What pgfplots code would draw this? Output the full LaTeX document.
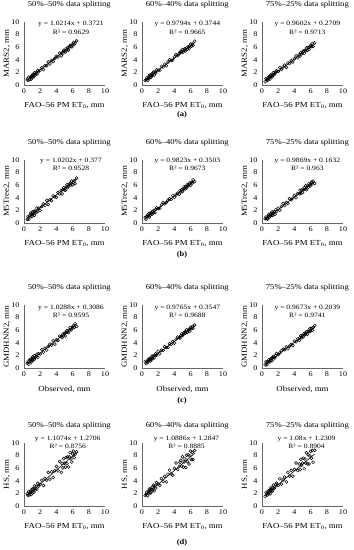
\documentclass[border=0pt]{standalone}
\usepackage{fontspec}
\setmainfont{Liberation Serif}[FakeStretch=1.15]
\usepackage{pgfplots}
\usepackage{pgfplotstable}
\pgfplotsset{compat=1.18}
\newcommand{\ti}{\fontsize{7.5}{8}\selectfont}
\newcommand{\eqf}{\fontsize{6.6}{7}\selectfont}
\newcommand{\lb}{\fontsize{7.7}{8.5}\selectfont}
\newcommand{\tk}{\fontsize{7.1}{7.5}\selectfont}
\newcommand{\pl}{\fontsize{7.4}{8}\selectfont\bfseries}

\pgfplotstableread{
x ya yb yc
0.4 0.95 0.70 0.50
0.5 0.75 0.85 1.00
0.6 1.25 1.15 0.85
0.7 0.85 0.75 0.75
0.8 1.15 1.25 1.25
0.85 1.30 1.10 1.00
0.9 0.95 1.55 1.30
1.0 1.55 1.15 0.95
1.05 1.30 1.55 1.40
1.1 1.60 1.20 1.60
1.2 1.30 1.60 1.40
1.25 1.65 1.80 1.30
1.3 1.95 1.55 1.65
1.4 1.60 2.05 1.95
1.5 1.95 1.55 1.65
1.6 1.75 2.05 1.85
1.7 2.30 1.90 2.10
1.8 2.10 2.40 2.25
2.0 2.35 2.35 2.15
2.2 2.75 2.35 2.75
2.4 2.45 2.95 2.45
2.6 3.05 2.85 2.85
2.8 3.05 3.30 3.15
3.0 3.65 3.05 2.80
3.2 3.35 3.65 3.50
3.4 3.90 4.00 3.40
3.6 3.70 3.90 3.85
3.8 4.20 3.95 3.65
4.0 4.55 4.45 4.15
4.2 4.45 4.85 4.60
4.4 5.05 4.65 4.35
4.6 4.65 4.95 4.80
4.7 5.15 5.20 4.60
4.8 5.00 5.35 5.15
4.9 5.50 5.15 4.95
5.0 5.35 5.65 5.10
5.1 5.25 5.25 5.40
5.2 5.75 5.55 5.00
5.3 5.55 5.75 5.50
5.4 5.90 5.45 5.40
5.5 5.55 5.90 5.90
5.6 6.05 5.70 5.50
5.7 6.30 6.05 5.95
5.8 6.10 5.75 5.65
5.9 6.05 6.15 6.05
6.0 6.45 6.50 6.30
6.1 6.75 6.15 6.10
6.2 6.45 6.50 6.60
6.3 6.65 6.30 6.10
6.5 7.00 6.95 6.70
}\ta

\pgfplotstableread{
x ya yb yc
0.4 0.61 0.90 0.67
0.5 1.06 0.60 0.95
0.6 0.60 1.00 0.69
0.7 1.12 1.25 0.61
0.8 1.57 1.05 1.07
0.85 0.99 1.50 1.36
0.9 1.39 0.95 0.93
1.0 1.07 1.45 1.15
1.05 1.75 1.25 1.38
1.1 1.38 1.70 1.49
1.2 1.55 1.55 1.23
1.25 1.88 1.40 1.76
1.3 1.23 1.85 1.21
1.4 1.89 1.65 1.55
1.5 1.71 2.00 1.77
1.6 2.37 1.65 1.39
1.7 1.77 2.15 2.09
1.8 2.36 2.40 1.83
2.0 2.00 2.30 2.33
2.2 2.62 2.35 2.05
2.4 3.03 2.85 2.61
2.6 2.81 3.25 3.11
2.8 3.57 3.05 2.77
3.0 2.93 3.25 3.27
3.2 3.69 3.60 3.11
3.4 3.54 3.85 3.85
3.6 4.30 3.75 3.69
3.8 4.15 4.35 3.95
4.0 4.07 4.05 4.39
4.2 4.83 4.45 3.99
4.4 4.61 4.75 4.67
4.6 5.16 4.55 4.63
4.7 4.63 5.15 5.21
4.8 5.29 4.95 4.71
4.9 5.60 5.30 5.23
5.0 5.28 5.00 4.85
5.1 5.17 5.40 5.31
5.2 5.69 5.75 5.59
5.3 6.07 5.40 5.33
5.4 5.61 5.75 5.91
5.5 5.85 5.55 5.29
5.6 6.16 6.10 5.87
5.7 6.33 5.90 5.67
5.8 6.01 6.05 6.25
5.9 6.67 6.35 6.05
6.0 6.07 5.95 5.91
6.1 6.45 6.45 6.49
6.2 6.69 6.35 6.23
6.3 6.23 6.85 6.63
6.5 7.13 6.55 6.29
}\tb

\pgfplotstableread{
x ya yb yc
0.4 0.75 1.05 0.50
0.5 0.97 0.70 1.00
0.6 0.59 1.05 0.50
0.7 1.29 0.85 1.00
0.8 1.03 1.40 0.85
0.85 1.38 1.15 1.30
0.9 0.95 1.25 1.10
1.0 1.41 1.55 1.00
1.05 1.76 1.10 1.45
1.1 1.27 1.55 1.20
1.2 1.67 1.45 1.55
1.25 1.36 1.90 1.15
1.3 1.95 1.45 1.60
1.4 1.69 1.90 1.85
1.5 1.85 1.60 1.65
1.6 2.19 2.00 1.60
1.7 1.69 2.25 2.00
1.8 2.27 2.05 2.30
2.0 2.23 2.65 2.10
2.2 2.91 2.25 2.40
2.4 2.51 2.85 2.75
2.6 3.13 2.80 3.00
2.8 2.85 3.40 2.90
3.0 3.41 3.25 3.35
3.2 3.79 3.25 3.05
3.4 3.63 3.85 3.45
3.6 4.31 3.75 3.75
3.8 3.79 4.20 3.55
4.0 4.47 3.95 4.25
4.2 4.37 4.55 4.15
4.4 5.05 4.90 4.60
4.6 4.95 4.80 4.40
4.7 4.81 4.75 4.80
4.8 5.39 5.15 5.15
4.9 5.13 5.45 4.80
5.0 5.53 5.15 5.15
5.1 5.09 5.35 4.95
5.2 5.67 5.60 5.50
5.3 5.95 5.75 5.30
5.4 5.69 5.55 5.45
5.5 5.61 6.05 5.75
5.6 6.07 5.65 5.35
5.7 6.41 5.95 5.85
5.8 6.03 6.15 5.75
5.9 6.25 5.85 6.25
6.0 6.53 6.45 5.85
6.1 6.69 6.25 6.30
6.2 6.43 6.60 6.00
6.3 7.01 6.30 6.40
6.5 6.61 6.80 6.75
}\tc

\pgfplotstableread{
x ya yb yc
0.4 1.95 1.65 1.53
0.5 1.70 1.82 2.13
0.6 2.32 2.19 1.93
0.7 1.77 1.64 1.77
0.8 2.15 2.29 2.43
0.85 2.35 2.07 2.07
0.9 1.83 2.70 2.48
1.0 2.67 2.07 1.92
1.05 2.28 2.66 2.58
1.1 2.71 2.09 2.87
1.2 2.19 2.67 2.51
1.25 2.73 2.97 2.33
1.3 3.20 2.54 2.87
1.4 2.56 3.32 3.32
1.5 3.10 2.40 2.75
1.6 2.67 3.21 3.03
1.7 3.60 2.86 3.42
1.8 3.16 3.73 3.63
2.0 3.47 3.47 3.27
2.2 4.11 3.27 4.32
2.4 3.25 4.35 3.47
2.6 4.36 3.90 4.13
2.8 4.11 4.71 4.59
3.0 5.32 3.82 3.82
3.2 4.27 5.05 5.31
3.4 5.42 5.69 4.74
3.6 4.53 5.09 5.65
3.8 5.60 4.87 4.73
4.0 6.27 5.97 5.82
4.2 5.58 6.82 6.82
4.4 7.07 5.79 5.63
4.6 5.34 6.33 6.66
4.7 6.78 6.94 5.77
4.8 6.04 7.23 7.40
4.9 7.52 6.32 6.49
5.0 6.77 7.82 6.77
5.1 6.17 6.17 7.59
5.2 7.71 6.99 5.91
5.3 6.74 7.47 7.47
5.4 7.77 6.10 6.84
5.5 6.20 8.07 8.45
5.6 7.81 7.05 6.67
5.7 8.50 8.12 8.12
5.8 7.46 6.68 6.68
5.9 6.97 7.96 7.96
6.0 8.27 8.70 8.67
6.1 8.70 7.37 7.58
6.2 7.68 8.50 8.80
6.3 8.20 7.37 6.96
6.5 8.60 8.80 8.85
}\td

\pgfplotsset{
 pan/.style={scale only axis, width=81pt, height=63pt, anchor=south west,
  xmin=0, xmax=10, ymin=0, ymax=10,
  xtick={0,2,4,6,8,10}, ytick={0,2,4,6,8,10},
  axis x line*=bottom, axis y line*=left,
  axis line style={draw=black!60, line width=0.55pt},
  major tick length=0pt, clip=false,
  tick label style={font=\tk},
  /pgf/number format/assume math mode=true,
  xticklabel style={yshift=-0.5pt}, yticklabel style={xshift=-1pt},
 },
 sc/.style={only marks, mark=o, mark size=1.5pt, mark options={line width=0.5pt, draw=black}},
 tr/.style={black, line width=0.6pt, no marks},
}

\begin{document}
\begin{tikzpicture}
\path[use as bounding box] (0,0) rectangle (354pt,550pt);

% ---------- row (a)
\begin{axis}[pan, at={(24pt,465pt)}]
\addplot[sc] table[x=x,y=ya]{\ta};
\addplot[tr] coordinates {(0.4,0.781) (6.5,7.011)};
\node[font=\ti] at ([yshift=17pt]rel axis cs:0.56,1) {50\%–50\% data splitting};
\node[font=\eqf] at (axis cs:5.8,9.7) {y = 1.0214x + 0.3721};
\node[font=\eqf] at (axis cs:5.8,8.4) {R² = 0.9629};
\node[font=\lb] at ([yshift=-21pt]rel axis cs:0.5,0) {FAO–56 PM ET\textsubscript{0}, mm};
\node[font=\lb, rotate=90] at ([xshift=-17pt]rel axis cs:0,0.5) {MARS2, mm};
\end{axis}
\begin{axis}[pan, at={(142pt,465pt)}]
\addplot[sc] table[x=x,y=yb]{\ta};
\addplot[tr] coordinates {(0.4,0.766) (6.5,6.741)};
\node[font=\ti] at ([yshift=17pt]rel axis cs:0.56,1) {60\%–40\% data splitting};
\node[font=\eqf] at (axis cs:5.6,9.7) {y = 0.9794x + 0.3744};
\node[font=\eqf] at (axis cs:5.6,8.4) {R² = 0.9665};
\node[font=\lb] at ([yshift=-21pt]rel axis cs:0.5,0) {FAO–56 PM ET\textsubscript{0}, mm};
\node[font=\lb, rotate=90] at ([xshift=-17pt]rel axis cs:0,0.5) {MARS2, mm};
\end{axis}
\begin{axis}[pan, at={(262pt,465pt)}]
\addplot[sc] table[x=x,y=yc]{\ta};
\addplot[tr] coordinates {(0.4,0.655) (6.5,6.512)};
\node[font=\ti] at ([yshift=17pt]rel axis cs:0.56,1) {75\%–25\% data splitting};
\node[font=\eqf] at (axis cs:5.6,9.7) {y = 0.9602x + 0.2709};
\node[font=\eqf] at (axis cs:5.6,8.4) {R² = 0.9713};
\node[font=\lb] at ([yshift=-21pt]rel axis cs:0.5,0) {FAO–56 PM ET\textsubscript{0}, mm};
\node[font=\lb, rotate=90] at ([xshift=-17pt]rel axis cs:0,0.5) {MARS2, mm};
\end{axis}

% ---------- row (b)
\begin{axis}[pan, at={(24pt,327pt)}]
\addplot[sc] table[x=x,y=ya]{\tb};
\addplot[tr] coordinates {(0.4,0.785) (6.5,7.008)};
\node[font=\ti] at ([yshift=17pt]rel axis cs:0.56,1) {50\%–50\% data splitting};
\node[font=\eqf] at (axis cs:5.8,9.85) {y = 1.0202x + 0.377};
\node[font=\eqf] at (axis cs:5.8,8.6) {R² = 0.9528};
\node[font=\lb] at ([yshift=-21pt]rel axis cs:0.5,0) {FAO–56 PM ET\textsubscript{0}, mm};
\node[font=\lb, rotate=90] at ([xshift=-17pt]rel axis cs:0,0.5) {M5Tree2, mm};
\end{axis}
\begin{axis}[pan, at={(142pt,327pt)}]
\addplot[sc] table[x=x,y=yb]{\tb};
\addplot[tr] coordinates {(0.4,0.743) (6.5,6.735)};
\node[font=\ti] at ([yshift=17pt]rel axis cs:0.56,1) {60\%–40\% data splitting};
\node[font=\eqf] at (axis cs:5.6,9.85) {y = 0.9823x + 0.3503};
\node[font=\eqf] at (axis cs:5.6,8.6) {R² = 0.9673};
\node[font=\lb] at ([yshift=-21pt]rel axis cs:0.5,0) {FAO–56 PM ET\textsubscript{0}, mm};
\node[font=\lb, rotate=90] at ([xshift=-17pt]rel axis cs:0,0.5) {M5Tree2, mm};
\end{axis}
\begin{axis}[pan, at={(262pt,327pt)}]
\addplot[sc] table[x=x,y=yc]{\tb};
\addplot[tr] coordinates {(0.4,0.558) (6.5,6.578)};
\node[font=\ti] at ([yshift=17pt]rel axis cs:0.56,1) {75\%–25\% data splitting};
\node[font=\eqf] at (axis cs:5.6,9.85) {y = 0.9869x + 0.1632};
\node[font=\eqf] at (axis cs:5.6,8.6) {R² = 0.963};
\node[font=\lb] at ([yshift=-21pt]rel axis cs:0.5,0) {FAO–56 PM ET\textsubscript{0}, mm};
\node[font=\lb, rotate=90] at ([xshift=-17pt]rel axis cs:0,0.5) {M5Tree2, mm};
\end{axis}

% ---------- row (c)
\begin{axis}[pan, at={(24pt,182pt)}]
\addplot[sc] table[x=x,y=ya]{\tc};
\addplot[tr] coordinates {(0.4,0.720) (6.5,6.996)};
\node[font=\ti] at ([yshift=17pt]rel axis cs:0.56,1) {50\%–50\% data splitting};
\node[font=\eqf] at (axis cs:5.8,9.5) {y = 1.0288x + 0.3086};
\node[font=\eqf] at (axis cs:5.8,8.4) {R² = 0.9595};
\node[font=\lb] at ([yshift=-21pt]rel axis cs:0.5,0) {Observed, mm};
\node[font=\lb, rotate=90] at ([xshift=-17pt]rel axis cs:0,0.5) {GMDHNN2, mm};
\end{axis}
\begin{axis}[pan, at={(142pt,182pt)}]
\addplot[sc] table[x=x,y=yb]{\tc};
\addplot[tr] coordinates {(0.4,0.745) (6.5,6.702)};
\node[font=\ti] at ([yshift=17pt]rel axis cs:0.56,1) {60\%–40\% data splitting};
\node[font=\eqf] at (axis cs:5.6,9.5) {y = 0.9765x + 0.3547};
\node[font=\eqf] at (axis cs:5.6,8.4) {R² = 0.9688};
\node[font=\lb] at ([yshift=-21pt]rel axis cs:0.5,0) {Observed, mm};
\node[font=\lb, rotate=90] at ([xshift=-17pt]rel axis cs:0,0.5) {GMDHNN2, mm};
\end{axis}
\begin{axis}[pan, at={(262pt,182pt)}]
\addplot[sc] table[x=x,y=yc]{\tc};
\addplot[tr] coordinates {(0.4,0.591) (6.5,6.491)};
\node[font=\ti] at ([yshift=17pt]rel axis cs:0.56,1) {75\%–25\% data splitting};
\node[font=\eqf] at (axis cs:5.6,9.5) {y = 0.9673x + 0.2039};
\node[font=\eqf] at (axis cs:5.6,8.4) {R² = 0.9741};
\node[font=\lb] at ([yshift=-21pt]rel axis cs:0.5,0) {Observed, mm};
\node[font=\lb, rotate=90] at ([xshift=-17pt]rel axis cs:0,0.5) {GMDHNN2, mm};
\end{axis}

% ---------- row (d)
\begin{axis}[pan, at={(24pt,44pt)}]
\addplot[sc] table[x=x,y=ya]{\td};
\addplot[tr] coordinates {(0.4,1.714) (6.5,8.469)};
\node[font=\ti] at ([yshift=17pt]rel axis cs:0.56,1) {50\%–50\% data splitting};
\node[font=\eqf] at (axis cs:5.4,10.6) {y = 1.1074x + 1.2706};
\node[font=\eqf] at (axis cs:5.4,9.4) {R² = 0.8756};
\node[font=\lb] at ([yshift=-21pt]rel axis cs:0.5,0) {FAO–56 PM ET\textsubscript{0}, mm};
\node[font=\lb, rotate=90] at ([xshift=-17pt]rel axis cs:0,0.5) {HS, mm};
\end{axis}
\begin{axis}[pan, at={(142pt,44pt)}]
\addplot[sc] table[x=x,y=yb]{\td};
\addplot[tr] coordinates {(0.4,1.720) (6.5,8.361)};
\node[font=\ti] at ([yshift=17pt]rel axis cs:0.56,1) {60\%–40\% data splitting};
\node[font=\eqf] at (axis cs:5.5,10.6) {y = 1.0886x + 1.2847};
\node[font=\eqf] at (axis cs:5.5,9.4) {R² = 0.8885};
\node[font=\lb] at ([yshift=-21pt]rel axis cs:0.5,0) {FAO–56 PM ET\textsubscript{0}, mm};
\node[font=\lb, rotate=90] at ([xshift=-17pt]rel axis cs:0,0.5) {HS, mm};
\end{axis}
\begin{axis}[pan, at={(262pt,44pt)}]
\addplot[sc] table[x=x,y=yc]{\td};
\addplot[tr] coordinates {(0.4,1.663) (6.5,8.251)};
\node[font=\ti] at ([yshift=17pt]rel axis cs:0.56,1) {75\%–25\% data splitting};
\node[font=\eqf] at (axis cs:5.5,10.6) {y = 1.08x + 1.2309};
\node[font=\eqf] at (axis cs:5.5,9.4) {R² = 0.8904};
\node[font=\lb] at ([yshift=-21pt]rel axis cs:0.5,0) {FAO–56 PM ET\textsubscript{0}, mm};
\node[font=\lb, rotate=90] at ([xshift=-17pt]rel axis cs:0,0.5) {HS, mm};
\end{axis}

% panel letters
\node[font=\pl] at (182pt,435pt) {(a)};
\node[font=\pl] at (182pt,295pt) {(b)};
\node[font=\pl] at (182pt,149pt) {(c)};
\node[font=\pl] at (182pt,7pt) {(d)};
\end{tikzpicture}
\end{document}
